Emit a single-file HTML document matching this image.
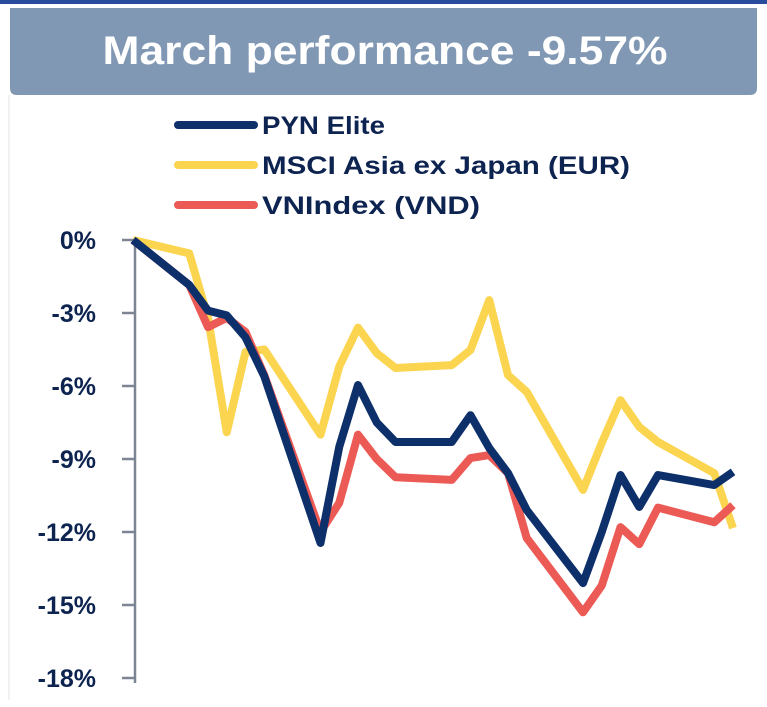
<!DOCTYPE html>
<html><head><meta charset="utf-8"><style>
html,body{margin:0;padding:0;background:#fff;}
svg{display:block;font-family:"Liberation Sans",sans-serif;}
</style></head><body>
<svg width="767" height="707" viewBox="0 0 767 707">
<rect x="0" y="0" width="767" height="4" fill="#2a4c9c"/>
<path d="M10 8 H757 V88 Q757 95 750 95 H17 Q10 95 10 88 Z" fill="#8198b4"/>
<text x="385" y="64" text-anchor="middle" font-size="40" font-weight="bold" fill="#fff" textLength="565" lengthAdjust="spacingAndGlyphs">March performance -9.57%</text>
<line x1="9" y1="95" x2="9" y2="700" stroke="#e4e6ea" stroke-width="1"/>
<g id="legend"></g>
<g id="axis"></g>
<g id="series"></g>
</svg>
<script>
const days = [0,3,4,5,6,7,10,11,12,13,14,17,18,19,20,21,24,25,26,27,28,31,32];
const pyn = [0,-1.85,-2.9,-3.1,-4.0,-5.6,-12.45,-8.5,-5.96,-7.5,-8.3,-8.3,-7.2,-8.55,-9.58,-11.1,-14.1,-12.0,-9.66,-10.97,-9.66,-10.07,-9.53];
const msci = [0,-0.55,-3.2,-7.9,-4.6,-4.5,-8.0,-5.2,-3.6,-4.65,-5.26,-5.14,-4.52,-2.47,-5.55,-6.24,-10.27,-8.34,-6.58,-7.68,-8.3,-9.58,-11.84];
const vn = [0,-1.85,-3.58,-3.2,-3.78,-5.55,-12.0,-10.8,-8.0,-9.0,-9.75,-9.86,-8.96,-8.84,-9.58,-12.25,-15.3,-14.2,-11.8,-12.5,-11.0,-11.6,-10.9];
const yTicks = [0,-3,-6,-9,-12,-15,-18];
const yTickLabels = ["0%","-3%","-6%","-9%","-12%","-15%","-18%"];
const seriesNames = ["PYN Elite","MSCI Asia ex Japan (EUR)","VNIndex (VND)"];

const NS="http://www.w3.org/2000/svg";
const xS = d => 133 + d*18.75;
const yS = v => 240 - v*(73/3);
function mk(tag, attrs, parent){const e=document.createElementNS(NS,tag);for(const k in attrs)e.setAttribute(k,attrs[k]);parent.appendChild(e);return e;}

const axis=document.getElementById('axis');
const ax=mk('line',{x1:135,y1:yS(0)-1,x2:135,y2:yS(-18)+5,stroke:'#7d8594','stroke-width':2.5},axis);


yTicks.forEach((t,i)=>{
  const tk=mk('line',{x1:122,y1:yS(t),x2:135,y2:yS(t),stroke:'#7d8594','stroke-width':2.5},axis);
  
  
  const tx=mk('text',{x:96,y:yS(t)+9,'text-anchor':'end','font-size':25,'font-weight':'bold',fill:'#0d2350'},axis);
  tx.textContent=yTickLabels[i];
  
  
});

const colors=['#0d2f6a','#fbd550','#ec5a56'];
const data=[pyn,msci,vn];
const lg=document.getElementById('legend');
const lens=[123,368,218];
seriesNames.forEach((n,i)=>{
  const y=125+i*40;
  const l=mk('line',{x1:178,y1:y,x2:254,y2:y,stroke:colors[i],'stroke-width':8,'stroke-linecap':'round'},lg);
  
  
  const t=mk('text',{x:262,y:y+9,'font-size':25,'font-weight':'bold',fill:'#0d2350',textLength:lens[i],lengthAdjust:'spacingAndGlyphs'},lg);
  t.textContent=n;
  
  
});

const sg=document.getElementById('series');
[1,2,0].forEach(i=>{
  const pts=days.map((d,j)=>xS(d)+','+yS(data[i][j])).join(' ');
  const p=mk('polyline',{points:pts,fill:'none',stroke:colors[i],'stroke-width':8,'stroke-linejoin':'round','stroke-linecap':'butt'},sg);
  
  
});
</script>
</body></html>
